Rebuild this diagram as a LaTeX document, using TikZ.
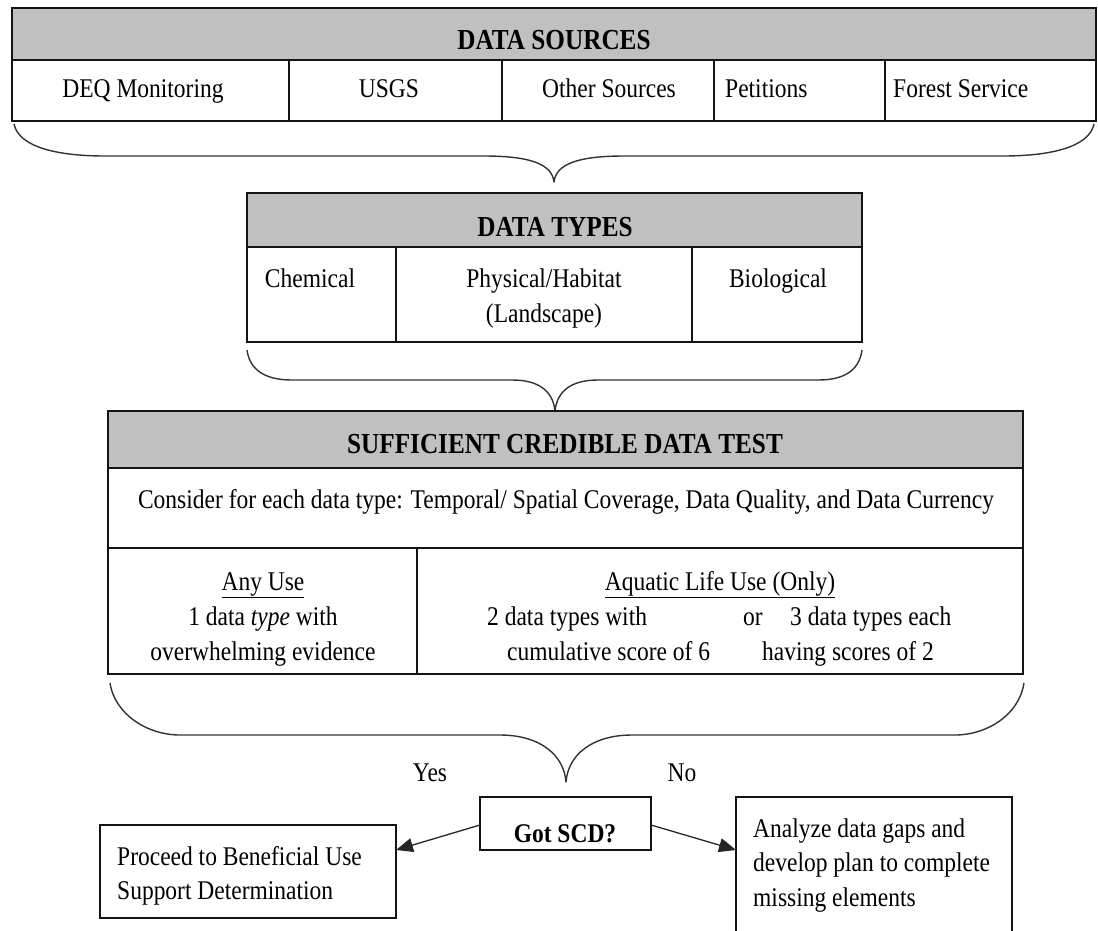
\documentclass[tikz,border=0pt]{standalone}
\usepackage{fontspec}
\setmainfont{Liberation Serif}[FakeStretch=0.87]
\usetikzlibrary{arrows.meta,calc}
\definecolor{hdrgray}{RGB}{192,192,192}
\definecolor{inkline}{RGB}{20,20,20}

\begin{document}
\begin{tikzpicture}[x=1pt,y=-1pt,
  body/.style={font=\fontsize{27}{35}\selectfont, inner sep=0pt, anchor=base},
  bodyl/.style={body, anchor=base west},
  title/.style={font=\fontsize{29}{35}\selectfont\bfseries, inner sep=0pt, anchor=base},
  cell/.style={draw=inkline, line width=1.6pt, inner sep=0pt, outer sep=0pt, anchor=north west},
  head/.style={cell, fill=hdrgray},
  brace/.style={draw=black!80, line width=1.4pt, line join=round},
  arr/.style={draw=black!85, line width=1.3pt, -{Triangle[length=17pt,width=14pt]}},
]
\path[use as bounding box] (0,0) rectangle (1098,930);
\fill[white] (0,0) rectangle (1098,930);
\clip (0,0) rectangle (1098,930);

% ---------- Data sources ----------
\node[head, minimum width=1084pt, minimum height=52pt] (srchead) at (12,8) {};
\node[cell, minimum width=277pt, minimum height=61pt] (deq)    at (12,60)  {};
\node[cell, minimum width=213pt, minimum height=61pt] (usgs)   at (289,60) {};
\node[cell, minimum width=212pt, minimum height=61pt] (other)  at (502,60) {};
\node[cell, minimum width=171pt, minimum height=61pt] (petit)  at (714,60) {};
\node[cell, minimum width=211pt, minimum height=61pt] (forest) at (885,60) {};
\node[title] (srctitle) at (554,49) {DATA SOURCES};
\node[body]  (tdeq)    at (143,97) {DEQ Monitoring};
\node[body]  (tusgs)   at (389,97) {USGS};
\node[body]  (tother)  at (609,97) {Other Sources};
\node[bodyl] (tpetit)  at (725,97) {Petitions};
\node[bodyl] (tforest) at (893,97) {Forest Service};

\draw[brace] (14,124) .. controls (19,148) and (60,156) .. (105,156) -- (484,156)
  .. controls (530,156) and (552,164) .. (554,182)
  .. controls (556,164) and (578,156) .. (624,156) -- (1003,156)
  .. controls (1048,156) and (1089,148) .. (1094,124);

% ---------- Data types ----------
\node[head, minimum width=615pt, minimum height=54pt] (typehead) at (247,193) {};
\node[cell, minimum width=149pt, minimum height=95pt] (chem) at (247,247) {};
\node[cell, minimum width=296pt, minimum height=95pt] (phys) at (396,247) {};
\node[cell, minimum width=170pt, minimum height=95pt] (bio)  at (692,247) {};
\node[title] (typetitle) at (555,236) {DATA TYPES};
\node[body] (tchem)  at (310,287) {Chemical};
\node[body] (tphys1) at (544,287) {Physical/Habitat};
\node[body] (tphys2) at (544,322) {(Landscape)};
\node[body] (tbio)   at (778,287) {Biological};

\draw[brace] (247,350) .. controls (250,372) and (268,380) .. (292,380) -- (512,380)
  .. controls (540,380) and (553,392) .. (555,411)
  .. controls (557,392) and (570,380) .. (598,380) -- (818,380)
  .. controls (842,380) and (859,372) .. (862,350);

% ---------- Sufficient credible data test ----------
\node[head, minimum width=915pt, minimum height=57pt] (scdhead) at (108,411) {};
\node[cell, minimum width=915pt, minimum height=80pt] (consider) at (108,468) {};
\node[cell, minimum width=309pt, minimum height=126pt] (anyuse) at (108,548) {};
\node[cell, minimum width=606pt, minimum height=126pt] (aquatic) at (417,548) {};
\node[title] (scdtitle) at (565,453) {SUFFICIENT CREDIBLE DATA TEST};
\node[body] (tconsider) at (566,508) {Consider for each data type: Temporal/ Spatial Coverage, Data Quality, and Data Currency};
\node[body] (tany1) at (263,590) {\underline{Any Use}};
\node[body] (tany2) at (263,625) {1 data \textit{type} with};
\node[body] (tany3) at (263,660) {overwhelming evidence};
\node[body] (taq1) at (720,590) {\underline{Aquatic Life Use (Only)}};
\node[bodyl] (taq2) at (487,625) {2 data types with};
\node[bodyl] (taq3) at (507,660) {cumulative score of 6};
\node[bodyl] (taqor) at (743,625) {or};
\node[bodyl] (taq4) at (790,625) {3 data types each};
\node[bodyl] (taq5) at (762,660) {having scores of 2};

\draw[brace] (110,683) .. controls (115,715) and (148,735) .. (180,735) -- (500,735)
  .. controls (540,735) and (564,755) .. (566,782)
  .. controls (568,755) and (592,735) .. (632,735) -- (955,735)
  .. controls (987,735) and (1019,715) .. (1024,683);

% ---------- Decision ----------
\node[body] (yes) at (430,781) {Yes};
\node[body] (no)  at (682,781) {No};
\node[cell, minimum width=171pt, minimum height=53pt] (gotscd) at (480,797) {};
\node[title, font=\fontsize{27}{35}\selectfont\bfseries] (tgot) at (565,842) {Got SCD?};

\node[cell, minimum width=296pt, minimum height=93pt] (proceed) at (100,825) {};
\node[bodyl] (tpro1) at (117,865) {Proceed to Beneficial Use};
\node[bodyl] (tpro2) at (117,899) {Support Determination};

\node[cell, minimum width=276pt, minimum height=140pt] (analyze) at (736,797) {};
\node[bodyl] (tana1) at (753,837) {Analyze data gaps and};
\node[bodyl] (tana2) at (753,871) {develop plan to complete};
\node[bodyl] (tana3) at (753,906) {missing elements};

\draw[arr] ($(gotscd.north west)+(0,28)$) -- ($(proceed.north east)+(0,25)$);
\draw[arr] ($(gotscd.north east)+(0,28)$) -- ($(analyze.north west)+(0,53)$);
\end{tikzpicture}
\end{document}
